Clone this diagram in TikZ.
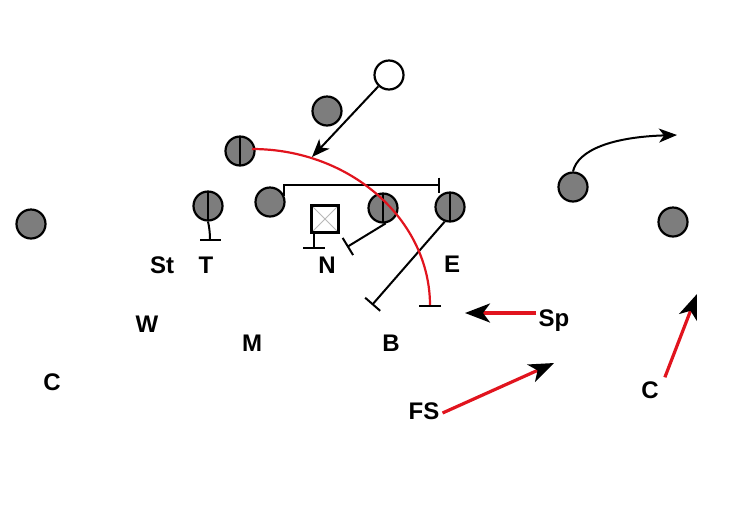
\documentclass[tikz,border=0pt]{standalone}
\usepackage{fontspec}
\setmainfont{Liberation Sans}
\usetikzlibrary{arrows.meta}
\definecolor{plgray}{RGB}{125,125,125}
\definecolor{rtered}{RGB}{225,20,30}
\tikzset{
  pl/.style={circle, draw=black, fill=plgray, minimum size=29pt, inner sep=0pt, line width=2.2pt},
  plv/.style={pl, path picture={\draw[line width=1.9pt] (path picture bounding box.north) -- (path picture bounding box.south);}},
  lbl/.style={font=\fontsize{24}{24}\selectfont\bfseries, inner sep=0pt, text height=17pt, text depth=0pt},
  blk/.style={draw=black, line width=2pt},
  redarr/.style={draw=rtered, line width=3.2pt, -{Stealth[black, length=25pt, width=19pt, inset=7pt]}},
  blkarr/.style={draw=black, line width=2pt, -{Stealth[black, length=18pt, width=14pt, inset=5pt]}}
}
\begin{document}
\begin{tikzpicture}[x=1pt, y=-1pt]
\useasboundingbox (0,0) rectangle (738,515);
% players
\node[pl, fill=white] (qb) at (389,75) {};
\node[pl] (rb) at (327,111) {};
\node[plv] (wing) at (240,151) {};
\node[plv] (d1) at (208,206) {};
\node[pl] (d2) at (270,202) {};
\node[rectangle, draw=black, line width=2.2pt, minimum size=27pt, inner sep=0pt, fill=white,
      path picture={\draw[gray!55, line width=1pt] (path picture bounding box.north west) -- (path picture bounding box.south east)
                     (path picture bounding box.north east) -- (path picture bounding box.south west);}] (ctr) at (325,219) {};
\node[plv] (d3) at (383,208) {};
\node[plv] (d4) at (450,207) {};
\node[pl] (sl) at (573,187) {};
\node[pl] (wr) at (673,222) {};
\node[pl] (wl) at (31,224) {};
% labels
\node[lbl] (St) at (162,265) {St};
\node[lbl] (T) at (206,265) {T};
\node[lbl] (N) at (327,265) {N};
\node[lbl] (E) at (452,264) {E};
\node[lbl] (W) at (147,324) {W};
\node[lbl] (M) at (252,343) {M};
\node[lbl] (B) at (391,343) {B};
\node[lbl] (Cl) at (52,382) {C};
\node[lbl] (Sp) at (554,318) {Sp};
\node[lbl] (FS) at (424,411) {FS};
\node[lbl] (Cr) at (650,390) {C};
% free ends
\coordinate (qbend) at (312,157);
\coordinate (d1end) at (210,241);
\coordinate (ctrbeg) at (313.5,232);
\coordinate (ctrend) at (313.5,249);
\coordinate (d3end) at (347,247);
\coordinate (d4end) at (372,305);
\coordinate (blkend) at (440,185);
\coordinate (mtnend) at (677,135);
\coordinate (spend) at (465,313);
\coordinate (fsend) at (554,363);
\coordinate (crend) at (697,294);
% blocks
\draw[blk, -{Bar[width=21pt]}] (d1.south) .. controls (209,226) and (210,232) .. (d1end);
\draw[blk, -{Bar[width=22pt]}] (ctrbeg) -- (ctrend);
\draw[blk, -{Bar[width=20pt]}] (d3.-80) -- (d3end);
\draw[blk, -{Bar[width=20pt]}] (d4.-110) -- (d4end);
\draw[blk, -{Bar[width=15pt]}] (d2.22) |- (blkend);
% red arc pull
\draw[draw=rtered, line width=2.2pt, -{Bar[black, width=22pt, line width=2pt]}] (252,149) arc[start angle=-90, end angle=0, x radius=178, y radius=158];
% QB arrow
\draw[blkarr] (qb) -- (qbend);
% motion
\draw[blkarr] (sl.north) .. controls (578,150) and (612,137) .. (mtnend);
% red arrows
\draw[redarr] (Sp.west) ++(-2,-5) -- (spend);
\draw[redarr] (FS.east) ++(3,2) -- (fsend);
\draw[redarr] (Cr.north east) ++(6,-4) -- (crend);
\end{tikzpicture}
\end{document}
